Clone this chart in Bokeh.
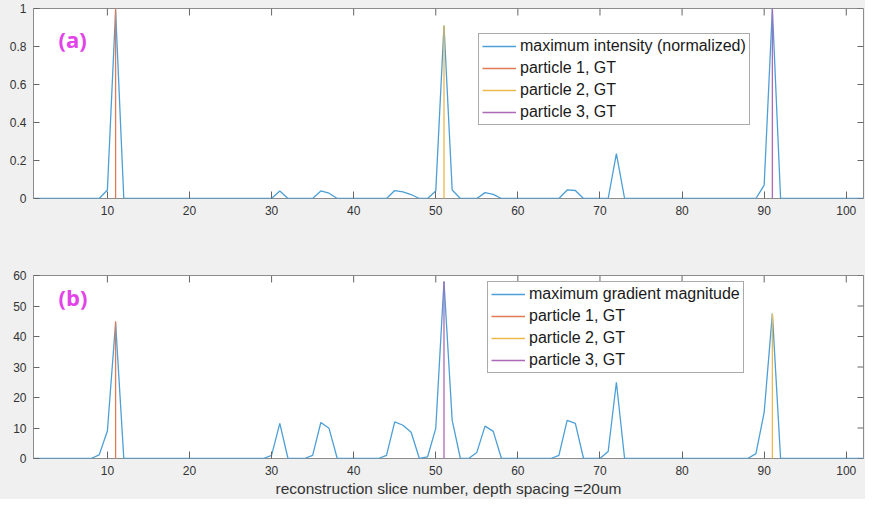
from bokeh.plotting import figure
from bokeh.models import Range1d, FixedTicker, Label
from bokeh.layouts import column
from bokeh.embed import file_html
from bokeh.resources import INLINE

# ---------------- data ----------------
slices = list(range(1, 106))

intensity = [
    0, 0, 0, 0, 0, 0, 0, 0, 0, 0.045,
    0.99, 0, 0, 0, 0, 0, 0, 0, 0, 0,
    0, 0, 0, 0, 0, 0, 0, 0, 0, 0,
    0.04, 0, 0, 0, 0, 0.04, 0.028, 0, 0, 0,
    0, 0, 0, 0, 0.042, 0.035, 0.021, 0, 0, 0.04,
    0.91, 0.045, 0, 0, 0, 0.031, 0.022, 0, 0, 0,
    0, 0, 0, 0, 0, 0.045, 0.042, 0, 0, 0,
    0, 0.236, 0, 0, 0, 0, 0, 0, 0, 0,
    0, 0, 0, 0, 0, 0, 0, 0, 0, 0.07,
    1.0, 0, 0, 0, 0, 0, 0, 0, 0, 0,
    0, 0, 0, 0, 0,
]

gradient = [
    0, 0, 0, 0, 0, 0, 0, 0, 1.2, 9,
    44.5, 0, 0, 0, 0, 0, 0, 0, 0, 0,
    0, 0, 0, 0, 0, 0, 0, 0, 0, 1,
    11.5, 0, 0, 0, 1, 11.8, 9.9, 0, 0, 0,
    0, 0, 0, 1, 12, 10.9, 8.6, 0, 0.5, 9.9,
    58, 12.5, 0, 0, 2, 10.6, 8.9, 0, 0, 0,
    0, 0, 0, 0, 1, 12.5, 11.5, 0, 0, 0,
    2.3, 25, 0, 0, 0, 0, 0, 0, 0, 0,
    0, 0, 0, 0, 0, 0, 0, 0, 1.6, 15.1,
    47.5, 0, 0, 0, 0, 0, 0, 0, 0, 0,
    0, 0, 0, 0, 0,
]

gt_names = ["particle 1, GT", "particle 2, GT", "particle 3, GT"]
gt_slices_a = [11, 51, 91]
gt_heights_a = [1.0, 0.91, 1.0]
gt_slices_b = [11, 91, 51]
gt_heights_b = [45, 47.5, 58]

x_ticks = [10, 20, 30, 40, 50, 60, 70, 80, 90, 100]
x_tick_labels = ["10", "20", "30", "40", "50", "60", "70", "80", "90", "100"]
y_ticks_a = [0, 0.2, 0.4, 0.6, 0.8, 1]
y_tick_labels_a = ["0", "0.2", "0.4", "0.6", "0.8", "1"]
y_ticks_b = [0, 10, 20, 30, 40, 50, 60]
y_tick_labels_b = ["0", "10", "20", "30", "40", "50", "60"]

# ---------------- style ----------------
BG = "#f0f0f0"
FONT = "Liberation Sans"
TXT = "#333333"
EDGE = "#8c8c8c"
TICK = "#666666"
BLUE = "#4d9fd6"
GT_COLORS = ["#e07b53", "#edb94a", "#ac6ab9"]
PANEL_COLOR = "#e243e8"
W = 865
X_START, X_END = 1, 102.1


def make_panel(height, top_b, bot_b, y_max, y_ticks, y_labels, series, series_name,
               gt_slices, gt_heights, gt_colors, legend_loc, tag, tag_y, xlabel=None):
    p = figure(width=W, height=height, output_backend="svg", toolbar_location=None, tools="",
               x_range=Range1d(X_START, X_END), y_range=Range1d(0, y_max),
               background_fill_color="white", border_fill_color=BG,
               min_border_left=33, min_border_right=2, min_border_top=top_b, min_border_bottom=bot_b)
    p.outline_line_color = EDGE
    p.outline_line_width = 1
    p.xgrid.visible = False
    p.ygrid.visible = False

    xax = p.xaxis[0]
    yax = p.yaxis[0]
    for ax, ticks, labels, tin in ((xax, x_ticks, x_tick_labels, 7), (yax, y_ticks, y_labels, 6)):
        ax.ticker = FixedTicker(ticks=ticks)
        ax.major_label_overrides = {t: l for t, l in zip(ticks, labels)}
        ax.major_tick_in = tin
        ax.major_tick_out = 0
        ax.minor_tick_line_color = None
        ax.axis_line_color = None
        ax.major_tick_line_color = TICK
        ax.major_label_text_font = FONT
        ax.major_label_text_font_size = "12px"
        ax.major_label_text_color = TXT
        ax.major_label_standoff = 7
    xax.major_label_standoff = 7

    if xlabel:
        xax.axis_label = xlabel
        xax.axis_label_text_font = FONT
        xax.axis_label_text_font_size = "15.5px"
        xax.axis_label_text_font_style = "normal"
        xax.axis_label_text_color = TXT
        xax.axis_label_standoff = 2

    main = p.line(slices, series, line_color=BLUE, line_width=1.3)
    gts = []
    for sx, sh, c in zip(gt_slices, gt_heights, gt_colors):
        gts.append(p.segment(x0=[sx], y0=[0], x1=[sx], y1=[sh], line_color=c, line_width=1.3))

    # inward ticks on the top and right edges of the box (MATLAB "box on")
    p.ray(x=x_ticks, y=y_max, length=7, length_units="screen", angle=-90, angle_units="deg",
          line_color=TICK, line_width=1)
    p.ray(x=X_END, y=y_ticks, length=6, length_units="screen", angle=180, angle_units="deg",
          line_color=TICK, line_width=1)

    items = [LegendItem(label=series_name, renderers=[main])]
    items += [LegendItem(label=n, renderers=[r]) for n, r in zip(gt_names, gts)]
    lg = Legend(items=items, location=legend_loc)
    lg.label_text_font = FONT
    lg.label_text_font_size = "16px"
    lg.label_text_color = "#1a1a1a"
    lg.glyph_width = 34
    lg.glyph_height = 18
    lg.label_height = 18
    lg.label_standoff = 4
    lg.spacing = 4
    lg.padding = 3
    lg.margin = 0
    lg.border_line_color = "#555555"
    lg.border_line_width = 1
    lg.background_fill_color = "white"
    lg.background_fill_alpha = 1.0
    p.add_layout(lg, "center")

    p.add_layout(Label(x=4.05, y=tag_y, text=tag, text_font="Open Sans", text_font_style="bold",
                       text_font_size="22px", text_color=PANEL_COLOR, text_baseline="middle"))
    return p


from bokeh.models import Legend, LegendItem

pa = make_panel(240, 8, 42, 1, y_ticks_a, y_tick_labels_a, intensity,
                "maximum intensity (normalized)", gt_slices_a, gt_heights_a,
                GT_COLORS, (445, 73), "(a)", 0.842)
pb = make_panel(259, 35, 39, 60, y_ticks_b, y_tick_labels_b, gradient,
                "maximum gradient magnitude", gt_slices_b, gt_heights_b,
                GT_COLORS, (454, 85), "(b)", 52.8,
                xlabel="reconstruction slice number, depth spacing =20um")

layout = column(pa, pb, spacing=0, styles={"background-color": BG})

open("out.html", "w").write(file_html(layout, INLINE))
